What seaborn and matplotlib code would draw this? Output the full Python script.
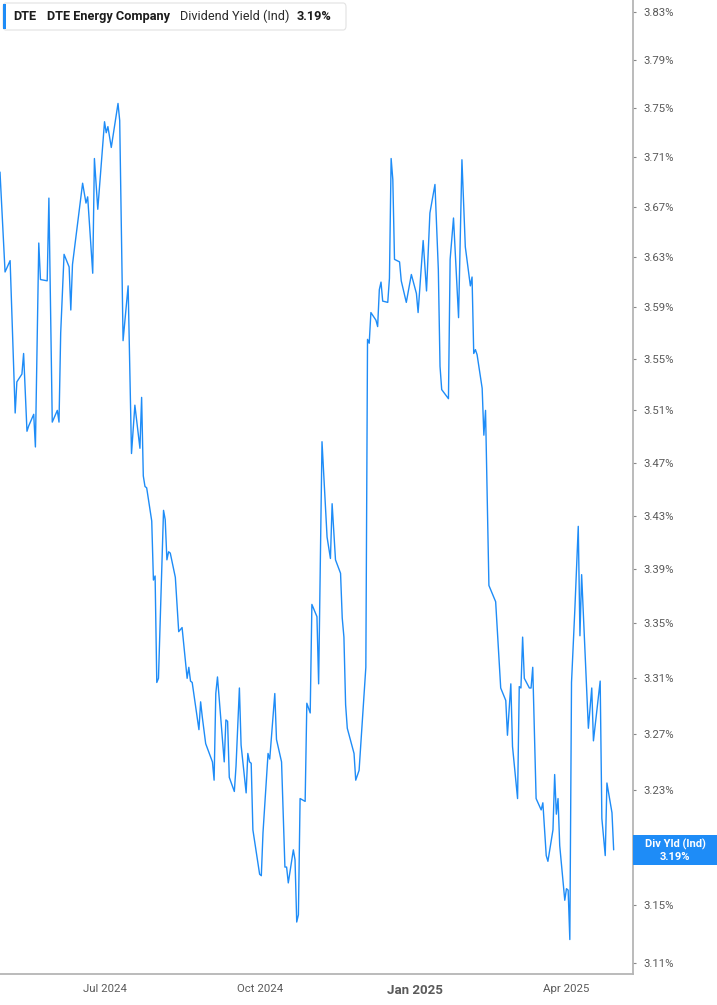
import numpy as np
import pandas as pd
import matplotlib
matplotlib.use("Agg")
import matplotlib.pyplot as plt
import matplotlib.dates as mdates
from matplotlib.patches import Rectangle, FancyBboxPatch
from matplotlib.ticker import FixedLocator, NullLocator
import seaborn as sns

# ---------------- data ----------------
dates = [
    "2024-04-30", "2024-05-03", "2024-05-06", "2024-05-09", "2024-05-10", "2024-05-13",
    "2024-05-14", "2024-05-16", "2024-05-17", "2024-05-20", "2024-05-21", "2024-05-23",
    "2024-05-24", "2024-05-28", "2024-05-29", "2024-05-31", "2024-06-03", "2024-06-04",
    "2024-06-05", "2024-06-07", "2024-06-10", "2024-06-11", "2024-06-12", "2024-06-18",
    "2024-06-20", "2024-06-21", "2024-06-24", "2024-06-25", "2024-06-27", "2024-07-01",
    "2024-07-02", "2024-07-03", "2024-07-05", "2024-07-09", "2024-07-10", "2024-07-12",
    "2024-07-15", "2024-07-17", "2024-07-19", "2024-07-22", "2024-07-23", "2024-07-24",
    "2024-07-25", "2024-07-26", "2024-07-29", "2024-07-30", "2024-07-31", "2024-08-01",
    "2024-08-02", "2024-08-05", "2024-08-06", "2024-08-07", "2024-08-08", "2024-08-09",
    "2024-08-12", "2024-08-14", "2024-08-16", "2024-08-19", "2024-08-20", "2024-08-21",
    "2024-08-22", "2024-08-26", "2024-08-27", "2024-08-28", "2024-08-30", "2024-09-03",
    "2024-09-04", "2024-09-05", "2024-09-06", "2024-09-10", "2024-09-11", "2024-09-12",
    "2024-09-13", "2024-09-16", "2024-09-17", "2024-09-19", "2024-09-20", "2024-09-23",
    "2024-09-24", "2024-09-25", "2024-09-26", "2024-09-27", "2024-10-01", "2024-10-02",
    "2024-10-03", "2024-10-06", "2024-10-07", "2024-10-10", "2024-10-11", "2024-10-14",
    "2024-10-16", "2024-10-17", "2024-10-18", "2024-10-21", "2024-10-22", "2024-10-23",
    "2024-10-24", "2024-10-25", "2024-10-28", "2024-10-29", "2024-10-31", "2024-11-01",
    "2024-11-04", "2024-11-05", "2024-11-07", "2024-11-10", "2024-11-12", "2024-11-13",
    "2024-11-15", "2024-11-18", "2024-11-19", "2024-11-20", "2024-11-21", "2024-11-22",
    "2024-11-26", "2024-11-27", "2024-11-29", "2024-12-03", "2024-12-04", "2024-12-05",
    "2024-12-06", "2024-12-09", "2024-12-10", "2024-12-11", "2024-12-12", "2024-12-13",
    "2024-12-16", "2024-12-17", "2024-12-18", "2024-12-19", "2024-12-20", "2024-12-23",
    "2024-12-24", "2024-12-27", "2024-12-30", "2025-01-02", "2025-01-03", "2025-01-06",
    "2025-01-08", "2025-01-10", "2025-01-13", "2025-01-15", "2025-01-16", "2025-01-17",
    "2025-01-21", "2025-01-22", "2025-01-24", "2025-01-27", "2025-01-29", "2025-01-31",
    "2025-02-03", "2025-02-04", "2025-02-05", "2025-02-06", "2025-02-07", "2025-02-10",
    "2025-02-11", "2025-02-12", "2025-02-14", "2025-02-18", "2025-02-21", "2025-02-24",
    "2025-02-25", "2025-02-27", "2025-02-28", "2025-03-03", "2025-03-04", "2025-03-05",
    "2025-03-06", "2025-03-07", "2025-03-10", "2025-03-11", "2025-03-12", "2025-03-14",
    "2025-03-17", "2025-03-18", "2025-03-20", "2025-03-21", "2025-03-24", "2025-03-25",
    "2025-03-26", "2025-03-27", "2025-03-28", "2025-03-31", "2025-04-01", "2025-04-02",
    "2025-04-03", "2025-04-04", "2025-04-06", "2025-04-08", "2025-04-09", "2025-04-10",
    "2025-04-14", "2025-04-16", "2025-04-17", "2025-04-21", "2025-04-22", "2025-04-24",
    "2025-04-25", "2025-04-28", "2025-04-29",
]
yield_pct = [
    3.698, 3.618, 3.627, 3.508, 3.532, 3.538,
    3.554, 3.494, 3.498, 3.507, 3.482, 3.641,
    3.612, 3.611, 3.677, 3.501, 3.510, 3.501,
    3.570, 3.632, 3.622, 3.588, 3.624, 3.689,
    3.673, 3.678, 3.617, 3.709, 3.668, 3.739,
    3.730, 3.735, 3.718, 3.754, 3.740, 3.564,
    3.607, 3.477, 3.514, 3.481, 3.520, 3.460,
    3.452, 3.451, 3.426, 3.382, 3.385, 3.307,
    3.310, 3.434, 3.427, 3.397, 3.403, 3.402,
    3.384, 3.344, 3.347, 3.310, 3.318, 3.308,
    3.307, 3.273, 3.293, 3.282, 3.263, 3.250,
    3.237, 3.299, 3.311, 3.250, 3.280, 3.279,
    3.239, 3.229, 3.247, 3.303, 3.262, 3.228,
    3.256, 3.250, 3.249, 3.202, 3.171, 3.170,
    3.200, 3.256, 3.252, 3.299, 3.266, 3.250,
    3.176, 3.176, 3.165, 3.188, 3.181, 3.138,
    3.143, 3.224, 3.222, 3.292, 3.285, 3.364,
    3.355, 3.306, 3.486, 3.414, 3.398, 3.439,
    3.397, 3.387, 3.354, 3.340, 3.291, 3.274,
    3.256, 3.237, 3.244, 3.318, 3.565, 3.562,
    3.586, 3.580, 3.575, 3.604, 3.610, 3.595,
    3.594, 3.613, 3.709, 3.692, 3.628, 3.626,
    3.611, 3.594, 3.616, 3.601, 3.586, 3.643,
    3.603, 3.665, 3.688, 3.620, 3.544, 3.526,
    3.519, 3.628, 3.661, 3.582, 3.708, 3.638,
    3.607, 3.614, 3.554, 3.557, 3.553, 3.527,
    3.491, 3.510, 3.378, 3.366, 3.303, 3.294,
    3.269, 3.306, 3.261, 3.224, 3.304, 3.303,
    3.340, 3.310, 3.303, 3.303, 3.318, 3.224,
    3.216, 3.221, 3.184, 3.180, 3.202, 3.241,
    3.213, 3.224, 3.191, 3.153, 3.161, 3.160,
    3.126, 3.307, 3.361, 3.422, 3.341, 3.386,
    3.274, 3.303, 3.265, 3.308, 3.210, 3.184,
    3.235, 3.214, 3.188,
]
y_ticks = [3.11, 3.15, 3.19, 3.23, 3.27, 3.31, 3.35, 3.39, 3.43, 3.47,
           3.51, 3.55, 3.59, 3.63, 3.67, 3.71, 3.75, 3.79, 3.83]
x_tick_dates = ["2024-07-01", "2024-10-01", "2025-01-01", "2025-04-01"]
x_tick_labels = ["Jul 2024", "Oct 2024", "Jan 2025", "Apr 2025"]
ticker_sym = "DTE"
company = "DTE Energy Company"
metric = "Dividend Yield (Ind)"
last_label = "3.19%"
badge_title = "Div Yld (Ind)"
last_value = 3.19

df = pd.DataFrame({"date": pd.to_datetime(dates), "yield": yield_pct})

# ---------------- style ----------------
sns.set_style("white")
plt.rcParams["font.family"] = ["Roboto", "DejaVu Sans"]

BLUE = "#1e8cf7"
GRAY_TXT = "#5a5a5a"
AXIS_COL = "#b5b5b5"

W, H = 717, 1005
fig = plt.figure(figsize=(W / 100, H / 100), dpi=100)
fx = lambda x: x / W
fy = lambda y: 1 - y / H

ax = fig.add_axes([0, 31 / H, 632.7 / W, 974 / H])

sns.lineplot(data=df, x="date", y="yield", ax=ax, color=BLUE, linewidth=1.0,
             estimator=None, sort=False)

ax.set_yscale("log")
ax.set_ylim(3.1025, 3.840)
ax.set_xlim(pd.Timestamp("2024-04-30"), pd.Timestamp("2025-05-10 07:00"))

ax.yaxis.set_major_locator(FixedLocator(y_ticks))
ax.yaxis.set_minor_locator(NullLocator())
# the tick label at the last value sits under the value badge, so it is left blank
ax.set_yticklabels(["" if abs(t - last_value) < 1e-9 else f"{t:.2f}%" for t in y_ticks])
ax.yaxis.tick_right()
ax.tick_params(axis="y", which="major", length=2.5, width=0.8, color="#888888",
               labelsize=8.2, labelcolor=GRAY_TXT, pad=5.5, direction="out")

xt = mdates.date2num(pd.to_datetime(x_tick_dates))
ax.xaxis.set_major_locator(FixedLocator(xt))
ax.xaxis.set_minor_locator(NullLocator())
ax.set_xticklabels(x_tick_labels)
ax.tick_params(axis="x", which="major", length=3.5, width=0.8, color="#888888",
               labelsize=8.2, labelcolor=GRAY_TXT, pad=3.5)
for lab in ax.get_xticklabels():
    if lab.get_text() == "Jan 2025":
        lab.set_fontweight("bold")
        lab.set_fontsize(9.5)

ax.set_xlabel("")
ax.set_ylabel("")
for s in ["top", "left"]:
    ax.spines[s].set_visible(False)
for s in ["bottom", "right"]:
    ax.spines[s].set_color(AXIS_COL)
    ax.spines[s].set_linewidth(1.3)
ax.grid(False)

# ---------------- header legend box ----------------
box = FancyBboxPatch((fx(3), fy(30)), 343 / W, 27 / H,
                     boxstyle="round,pad=0,rounding_size=0.004",
                     transform=fig.transFigure, facecolor="white",
                     edgecolor="#e2e2e2", linewidth=0.8, zorder=5)
fig.add_artist(box)
fig.add_artist(Rectangle((fx(3), fy(29)), 3 / W, 25 / H, transform=fig.transFigure,
                         facecolor=BLUE, edgecolor="none", zorder=6))
hy = fy(16.5)
fig.text(fx(13), hy, ticker_sym, fontsize=9.2, fontweight="bold", color="#1c1c1c",
         va="center", ha="left", zorder=7)
fig.text(fx(47), hy, company, fontsize=9.2, fontweight="bold", color="#1c1c1c",
         va="center", ha="left", zorder=7)
fig.text(fx(180), hy, metric, fontsize=9.2, color="#2a2a2a",
         va="center", ha="left", zorder=7)
fig.text(fx(297), hy, last_label, fontsize=9.2, fontweight="bold", color="#1c1c1c",
         va="center", ha="left", zorder=7)

# ---------------- last value badge ----------------
fig.add_artist(Rectangle((fx(633), fy(865)), 84 / W, 30 / H, transform=fig.transFigure,
                         facecolor=BLUE, edgecolor="none", zorder=6))
fig.text(fx(675), fy(844.5), badge_title, fontsize=8, fontweight="bold", color="white",
         va="center", ha="center", zorder=7)
fig.text(fx(675), fy(856.5), last_label, fontsize=8, fontweight="bold", color="white",
         va="center", ha="center", zorder=7)

fig.savefig("out.png", dpi=100)
